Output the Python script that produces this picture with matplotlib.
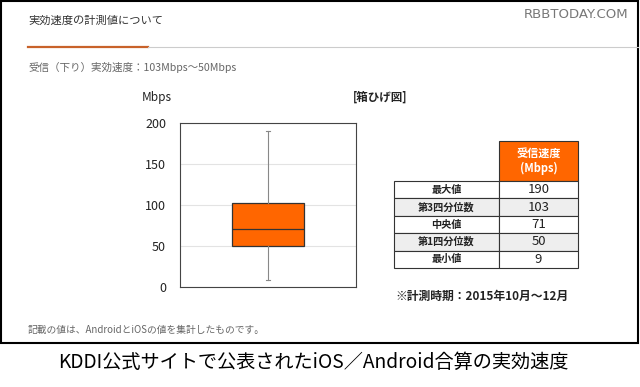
import matplotlib.pyplot as plt
from matplotlib.patches import Rectangle
from matplotlib.lines import Line2D

plt.rcParams['font.family'] = ['Noto Sans CJK JP', 'DejaVu Sans']

# Data
stat_labels = ['最大値', '第3四分位数', '中央値', '第1四分位数', '最小値']
stat_values = [190, 103, 71, 50, 9]
y_ticks = [0, 50, 100, 150, 200]

W, H = 640, 387
fig = plt.figure(figsize=(6.4, 3.87), dpi=100)
fig.patch.set_facecolor('white')

def fx(px):
    return px / W

def fy(py):
    return 1 - py / H

orange = '#ff6600'
gray_txt = '#666666'

# outer frame
fig.patches.append(Rectangle((fx(1), fy(343)), fx(637), 342 / H, transform=fig.transFigure,
                             fill=False, edgecolor='black', linewidth=1.5))

# header
fig.text(fx(28), fy(21), '実効速度の計測値について', fontsize=8.1, color='#333333', va='center')
fig.lines.append(Line2D([fx(28), fx(148)], [fy(47), fy(47)], transform=fig.transFigure,
                        color='#c8622a', linewidth=1.6))
fig.lines.append(Line2D([fx(148), fx(638)], [fy(47), fy(47)], transform=fig.transFigure,
                        color='#cccccc', linewidth=0.8))
fig.text(fx(628), fy(14), 'RBBTODAY.COM', fontsize=9.5, color='#777777', ha='right', va='center',
         family='DejaVu Sans')
fig.text(fx(28), fy(67), '受信（下り）実効速度：103Mbps～50Mbps', fontsize=7.6, color=gray_txt, va='center')

fig.text(fx(157), fy(97), 'Mbps', fontsize=8.5, color='#222222', ha='center', va='center')
fig.text(fx(380), fy(97), '[箱ひげ図]', fontsize=8.3, color='#222222', ha='center', va='center',
         fontweight='bold')

# box plot
ax = fig.add_axes([fx(180), fy(287), fx(356 - 180), (287 - 123) / H])
stats = [{
    'whishi': stat_values[0],
    'q3': stat_values[1],
    'med': stat_values[2],
    'q1': stat_values[3],
    'whislo': stat_values[4],
    'fliers': [],
}]
ax.bxp(stats, positions=[0], widths=0.81, patch_artist=True, showfliers=False,
       boxprops=dict(facecolor=orange, edgecolor='#333333', linewidth=0.9),
       medianprops=dict(color='#333333', linewidth=0.9),
       whiskerprops=dict(color='#888888', linewidth=0.8),
       capprops=dict(color='#888888', linewidth=0.8), capwidths=0.05)
ax.set_xlim(-1, 1)
ax.set_ylim(0, 200)
ax.set_yticks(y_ticks)
ax.set_xticks([])
ax.yaxis.grid(True, color='#e3e3e3', linewidth=0.8)
ax.set_axisbelow(True)
ax.tick_params(axis='y', length=0, labelsize=9, pad=10, labelcolor='#222222')
for s in ax.spines.values():
    s.set_color('#444444')
    s.set_linewidth(0.8)

# table
tax = fig.add_axes([fx(394), fy(268), fx(578 - 394), (268 - 141) / H])
tax.axis('off')
cell_text = [['', '受信速度\n(Mbps)']] + [[l, str(v)] for l, v in zip(stat_labels, stat_values)]
tbl = tax.table(cellText=cell_text, colWidths=[105 / 184, 79 / 184], loc='center', bbox=[0, 0, 1, 1])
tbl.auto_set_font_size(False)
for (r, c), cell in tbl.get_celld().items():
    cell.set_linewidth(0.8)
    cell.set_edgecolor('#333333')
    if r == 0:
        cell.set_height(40 / 127)
        if c == 0:
            cell.set_visible(False)
        else:
            cell.set_facecolor(orange)
            cell.get_text().set_color('white')
            cell.get_text().set_fontsize(8)
            cell.get_text().set_fontweight('bold')
    else:
        cell.set_height(87 / 5 / 127)
        cell.set_facecolor('#eeeeee' if r in (2, 4) else 'white')
        txt = cell.get_text()
        txt.set_color('#222222')
        if c == 0:
            txt.set_fontsize(7.3)
            txt.set_fontweight('bold')
        else:
            txt.set_fontsize(9.5)
    cell.get_text().set_ha('center')

fig.text(fx(482), fy(296), '※計測時期：2015年10月～12月', fontsize=8.5, color='#222222', ha='center', va='center',
         fontweight='bold')

fig.text(fx(28), fy(330), '記載の値は、AndroidとiOSの値を集計したものです。', fontsize=7, color=gray_txt, va='center')

fig.text(fx(313), fy(362), 'KDDI公式サイトで公表されたiOS／Android合算の実効速度', fontsize=13.8, color='black',
         ha='center', va='center')

fig.savefig('out.png', dpi=100)
